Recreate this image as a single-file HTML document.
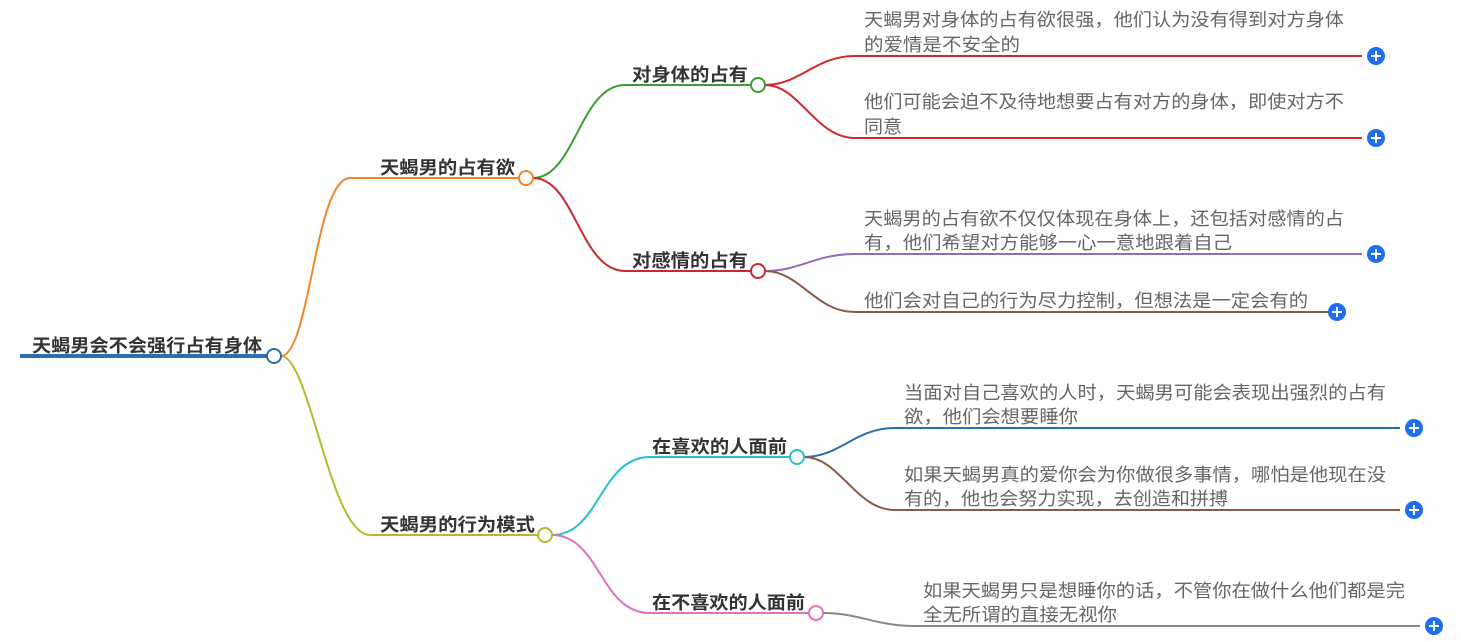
<!DOCTYPE html>
<html><head><meta charset="utf-8"><style>
html,body{margin:0;padding:0;background:#fff;}
svg{display:block;}
text{font-family:"Liberation Sans","Noto Sans CJK SC",sans-serif;}
.b{font-size:18px;font-weight:bold;fill:#333;}
.n{font-size:18px;fill:#666;}
</style></head><body>
<svg width="1461" height="642" viewBox="0 0 1461 642" xmlns="http://www.w3.org/2000/svg">
<g fill="none" stroke-width="2">
<line x1="20" y1="356" x2="267" y2="356" stroke="#2b6fad" stroke-width="4"/>
<path d="M281,356 C310,356 315,178 350,178 L519,178" stroke="#f0862a"/>
<path d="M281,356 C310,356 330,535 370,535 L538,535" stroke="#b8b92a"/>
<path d="M533,178 C575,178 580,85 625,85 L751,85" stroke="#3a9e32"/>
<path d="M533,178 C575,178 580,271 625,271 L751,271" stroke="#c8282f"/>
<path d="M552,535 C600,535 600,457 650,457 L790,457" stroke="#27bfcf"/>
<path d="M552,535 C600,535 600,613 650,613 L809,613" stroke="#e070c0"/>
<path d="M765,85 C800,85 815,56 855,56 L1362,56" stroke="#d2282e"/>
<path d="M765,85 C800,85 815,138 855,138 L1362,138" stroke="#d2282e"/>
<path d="M765,271 C800,271 815,254 855,254 L1362,254" stroke="#9a68b8"/>
<path d="M765,271 C800,271 815,312 855,312 L1330,312" stroke="#8a5a4a"/>
<path d="M804,457 C840,457 855,428 895,428 L1400,428" stroke="#2a6fa5"/>
<path d="M804,457 C840,457 855,510 895,510 L1400,510" stroke="#8a5a4a"/>
<path d="M823,613 C860,613 875,626 915,626 L1420,626" stroke="#888"/>
</g>
<g fill="#fff" stroke-width="2">
<circle cx="274" cy="356" r="7" stroke="#2b6fad"/>
<circle cx="526" cy="178" r="7" stroke="#f0862a"/>
<circle cx="545" cy="535" r="7" stroke="#b8b92a"/>
<circle cx="758" cy="85" r="7" stroke="#3a9e32"/>
<circle cx="758" cy="271" r="7" stroke="#c8282f"/>
<circle cx="797" cy="457" r="7" stroke="#27bfcf"/>
<circle cx="816" cy="613" r="7" stroke="#e070c0"/>
</g>
<g>
<g fill="#1f6ef0">
<circle cx="1376" cy="56" r="9"/><circle cx="1376" cy="138" r="9"/>
<circle cx="1376" cy="254" r="9"/><circle cx="1337" cy="312" r="9"/>
<circle cx="1414" cy="428" r="9"/><circle cx="1414" cy="510" r="9"/>
<circle cx="1434" cy="626" r="9"/>
</g>
<g stroke="#fff" stroke-width="2">
<path d="M1371,56h10M1376,51v10"/><path d="M1371,138h10M1376,133v10"/>
<path d="M1371,254h10M1376,249v10"/><path d="M1332,312h10M1337,307v10"/>
<path d="M1409,428h10M1414,423v10"/><path d="M1409,510h10M1414,505v10"/>
<path d="M1429,626h10M1434,621v10"/>
</g>
</g>
<text class="b" x="32" y="352" textLength="230" lengthAdjust="spacingAndGlyphs">天蝎男会不会强行占有身体</text>
<text class="b" x="380" y="174" textLength="135" lengthAdjust="spacingAndGlyphs">天蝎男的占有欲</text>
<text class="b" x="380" y="531" textLength="155" lengthAdjust="spacingAndGlyphs">天蝎男的行为模式</text>
<text class="b" x="632" y="81" textLength="116" lengthAdjust="spacingAndGlyphs">对身体的占有</text>
<text class="b" x="632" y="267" textLength="116" lengthAdjust="spacingAndGlyphs">对感情的占有</text>
<text class="b" x="652" y="453" textLength="135" lengthAdjust="spacingAndGlyphs">在喜欢的人面前</text>
<text class="b" x="652" y="609" textLength="153" lengthAdjust="spacingAndGlyphs">在不喜欢的人面前</text>

<text class="n" x="864" y="26" textLength="480" lengthAdjust="spacingAndGlyphs">天蝎男对身体的占有欲很强，他们认为没有得到对方身体</text>
<text class="n" x="864" y="51" textLength="156" lengthAdjust="spacingAndGlyphs">的爱情是不安全的</text>
<text class="n" x="864" y="108" textLength="480" lengthAdjust="spacingAndGlyphs">他们可能会迫不及待地想要占有对方的身体，即使对方不</text>
<text class="n" x="864" y="133" textLength="38" lengthAdjust="spacingAndGlyphs">同意</text>
<text class="n" x="864" y="225" textLength="480" lengthAdjust="spacingAndGlyphs">天蝎男的占有欲不仅仅体现在身体上，还包括对感情的占</text>
<text class="n" x="864" y="249" textLength="368" lengthAdjust="spacingAndGlyphs">有，他们希望对方能够一心一意地跟着自己</text>
<text class="n" x="864" y="307" textLength="444" lengthAdjust="spacingAndGlyphs">他们会对自己的行为尽力控制，但想法是一定会有的</text>
<text class="n" x="904" y="399" textLength="482" lengthAdjust="spacingAndGlyphs">当面对自己喜欢的人时，天蝎男可能会表现出强烈的占有</text>
<text class="n" x="904" y="423" textLength="174" lengthAdjust="spacingAndGlyphs">欲，他们会想要睡你</text>
<text class="n" x="904" y="481" textLength="482" lengthAdjust="spacingAndGlyphs">如果天蝎男真的爱你会为你做很多事情，哪怕是他现在没</text>
<text class="n" x="904" y="505" textLength="324" lengthAdjust="spacingAndGlyphs">有的，他也会努力实现，去创造和拼搏</text>
<text class="n" x="923" y="597" textLength="482" lengthAdjust="spacingAndGlyphs">如果天蝎男只是想睡你的话，不管你在做什么他们都是完</text>
<text class="n" x="923" y="621" textLength="194" lengthAdjust="spacingAndGlyphs">全无所谓的直接无视你</text>
</svg>
</body></html>
